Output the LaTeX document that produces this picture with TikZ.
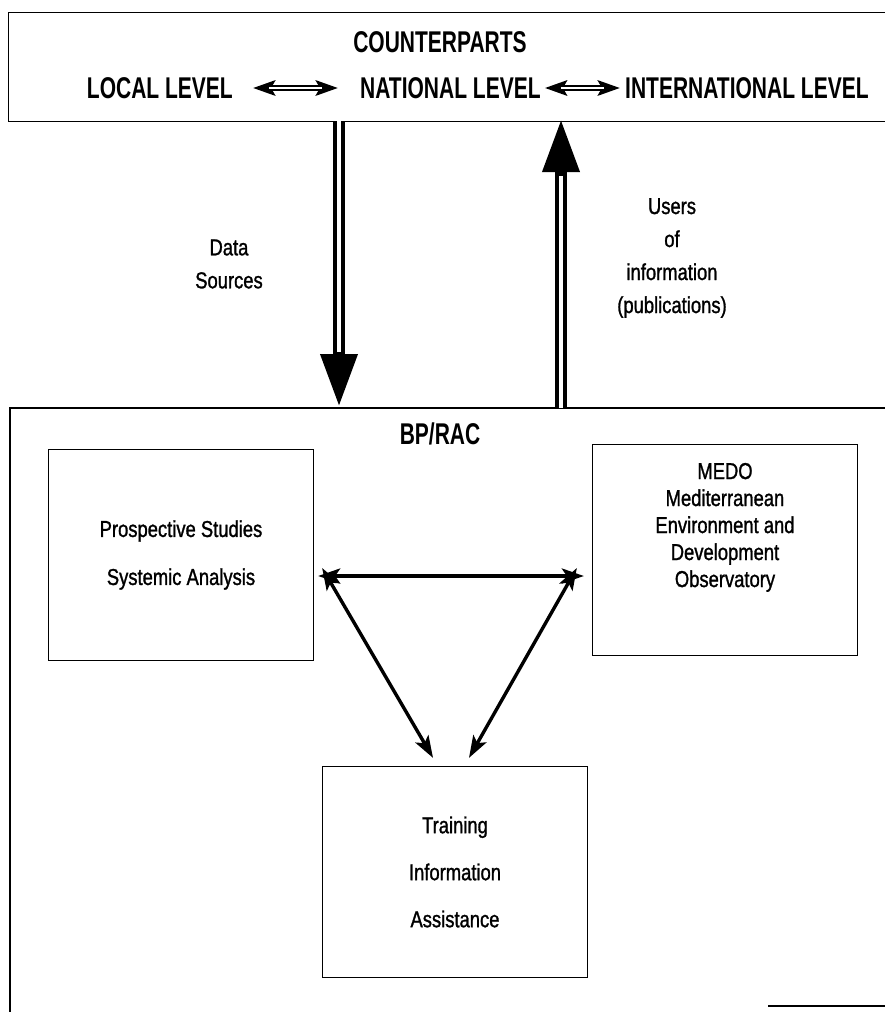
\documentclass[tikz,border=0pt]{standalone}
\usepackage{fontspec}
\setmainfont{Liberation Sans}[FakeStretch=0.8, BoldFeatures={FakeStretch=0.7}]
\newfontfamily\bodyfont{Liberation Sans}[FakeStretch=0.8, FakeBold=1.2]
\usetikzlibrary{shapes,arrows,arrows.meta,positioning,calc}

\tikzset{
  level/.style={font=\bfseries\fontsize{30}{34}\selectfont, inner sep=0pt},
  lbl/.style={align=center, inner sep=0pt, font=\bodyfont\fontsize{23}{33}\selectfont},
  unit/.style={draw, line width=1.3pt, minimum width=265pt, minimum height=211pt,
    inner sep=0pt, align=center},
  biarrow/.style={line width=3.4pt, {Stealth[length=22pt,width=15pt,inset=5pt]}-{Stealth[length=22pt,width=15pt,inset=5pt]}},
  lvarrow/.style={line width=5.5pt, {Stealth[length=22pt,width=15pt,inset=4pt]}-{Stealth[length=22pt,width=15pt,inset=4pt]}},
  lvinner/.style={white, line width=1.6pt, shorten >=16pt, shorten <=16pt},
  bigarrow/.style={line width=12pt, -{Triangle[length=54pt,width=34pt]}},
  biginner/.style={white, line width=4pt},
}

\begin{document}
\begin{tikzpicture}[x=1pt, y=-1pt]
    \useasboundingbox (0,0) rectangle (884,1012);

    % counterparts
    \node[draw, line width=1.3pt, minimum width=900pt, minimum height=109pt, anchor=north west] (cp) at (8,12) {};
    \node[level] (counter) at (440,42) {COUNTERPARTS};
    \node[level, anchor=east] (local) at (233,88) {LOCAL LEVEL};
    \node[level, anchor=west] (national) at (360,88) {NATIONAL LEVEL};
    \node[level, anchor=west] (intl) at (625,88) {INTERNATIONAL LEVEL};
    \draw[lvarrow] ([xshift=20pt]local.east) -- ([xshift=-22pt]national.west);
    \draw[lvinner] ([xshift=20pt]local.east) -- ([xshift=-22pt]national.west);
    \draw[lvarrow] ([xshift=4pt]national.east) -- ([xshift=-5pt]intl.west);
    \draw[lvinner] ([xshift=4pt]national.east) -- ([xshift=-5pt]intl.west);

    % BP/RAC frame
    \draw[line width=1.3pt] (10,1012) |- (900,408);
    \draw[line width=1.3pt] (768,1006) -- (900,1006);
    \coordinate (src top) at (339,121);
    \coordinate (src tip) at (339,408);
    \coordinate (use top) at (561,118);
    \coordinate (use foot) at (561,408);

    \draw[bigarrow] (src top) -- (src tip);
    \draw[biginner] (src top) -- ([yshift=56pt]src tip);
    \draw[bigarrow] (use foot) -- (use top);
    \draw[biginner] (use foot) -- ([yshift=-58pt]use top);

    \node[lbl] (data) at (229,264) {Data\\Sources};
    \node[lbl] (users) at (672,258) {Users\\of\\information\\(publications)};

    \node[level] (bprac) at (440,434) {BP/RAC};

    % units
    \node[unit, font=\bodyfont\fontsize{23}{48}\selectfont] (prosp) at (181,555) {Prospective Studies\\Systemic Analysis};
    \node[unit, font=\bodyfont\fontsize{23}{27}\selectfont, text depth=50pt] (medo) at (725,550) {MEDO\\Mediterranean\\Environment and\\Development\\Observatory};
    \node[unit, font=\bodyfont\fontsize{23}{47}\selectfont] (train) at (455,872) {Training\\Information\\Assistance};

    \draw[biarrow] ([xshift=4pt,yshift=-21pt]prosp.east) -- ([xshift=-8pt,yshift=-26pt]medo.west);
    \draw[biarrow] ([xshift=8pt,yshift=-13pt]prosp.east) -- ([xshift=-22pt,yshift=8pt]train.north);
    \draw[biarrow] ([xshift=-15pt,yshift=-18pt]medo.west) -- ([xshift=14pt,yshift=8pt]train.north);
\end{tikzpicture}
\end{document}
